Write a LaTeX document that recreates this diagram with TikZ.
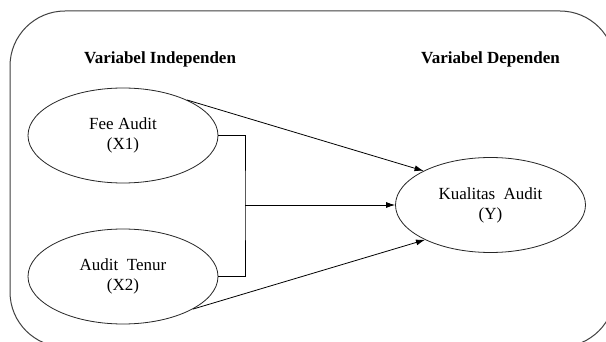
\documentclass[tikz,border=0pt]{standalone}
\usepackage{fontspec}
\setmainfont{Liberation Serif}
\usetikzlibrary{shapes.geometric,arrows.meta}
\begin{document}
\begin{tikzpicture}[x=1pt,y=-1pt,
  var/.style={draw=black!85,line width=0.8pt,ellipse,minimum width=190pt,minimum height=95pt,inner sep=0pt,align=center,font=\fontsize{17}{20}\selectfont},
  head/.style={font=\fontsize{17}{20}\selectfont\bfseries,inner sep=0pt},
  conn/.style={line width=0.8pt,draw=black},
  arr/.style={conn,-{Latex[length=9pt,width=6pt]}}]
\useasboundingbox (0,0) rectangle (606,342);
\clip (0,0) rectangle (606,342);
\fill[white] (0,0) rectangle (606,342);
\draw[black!75,line width=1pt,rounded corners=55pt] (10,11) rectangle (615,347);
\node[head] (hi) at (160,59) {Variabel Independen};
\node[head] (hd) at (490.5,59) {Variabel Dependen};
\node[var] (e1) at (123,135.5) {Fee Audit\\(X1)};
\node[var] (e2) at (123,276.5) {Audit\ \ Tenur\\(X2)};
\node[var] (y) at (490.5,205) {Kualitas\ \ Audit\\(Y)};
\coordinate (j) at (245,205);
\draw[conn] (e1.east) -| (j) |- (e2.east);
\draw[arr] (j) -- (y.west);
\draw[arr] (e1.29) -- (y.153);
\draw[arr] (e2.335) -- (y.208);
\end{tikzpicture}
\end{document}
